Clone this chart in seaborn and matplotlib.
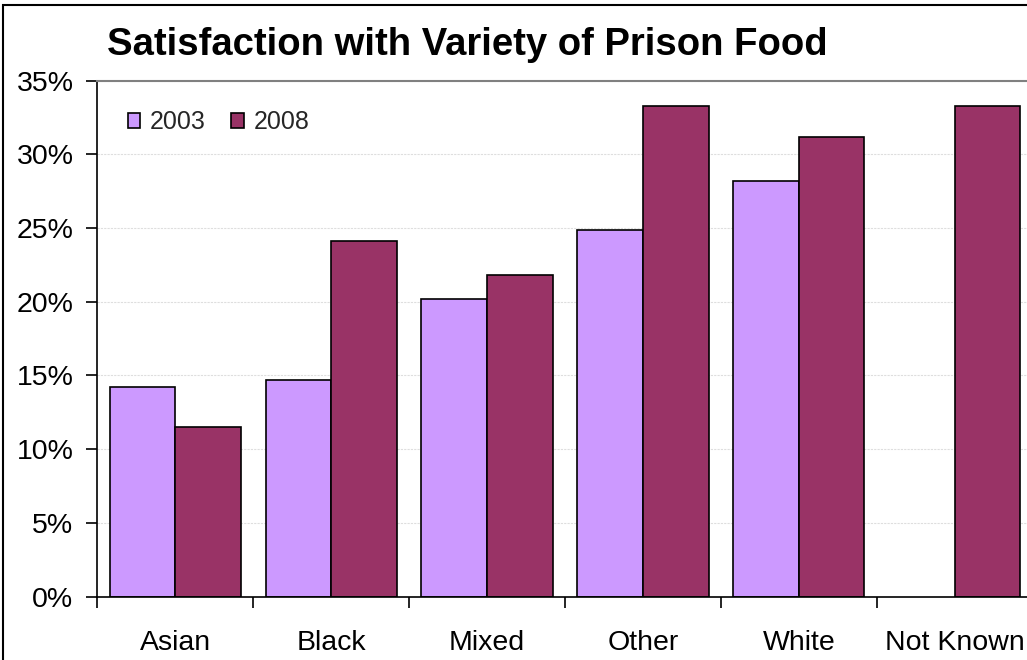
import numpy as np
import pandas as pd
import matplotlib
matplotlib.use("Agg")
import matplotlib.pyplot as plt
import seaborn as sns
from matplotlib.patches import Rectangle
from matplotlib.ticker import FixedLocator, FuncFormatter

categories = ["Asian", "Black", "Mixed", "Other", "White", "Not Known"]
years = ["2003", "2008"]
values_2003 = [14.2, 14.7, 20.2, 24.9, 28.2, np.nan]
values_2008 = [11.5, 24.1, 21.8, 33.3, 31.2, 33.3]
y_ticks = [0, 5, 10, 15, 20, 25, 30, 35]
title = "Satisfaction with Variety of Prison Food"

df = pd.DataFrame({
    "group": categories * 2,
    "year": [years[0]] * len(categories) + [years[1]] * len(categories),
    "value": values_2003 + values_2008,
}).dropna()

sns.set_theme(style="white")
plt.rcParams["font.family"] = ["Liberation Sans", "DejaVu Sans"]

fig = plt.figure(figsize=(10.27, 6.6), dpi=100)
ax = fig.add_axes([0.0945, 0.0962, 0.9113, 0.7815])

sns.barplot(data=df, x="group", y="value", hue="year", order=categories,
            hue_order=years, palette=["#CC99FF", "#993366"], width=0.84,
            edgecolor="black", linewidth=1.2, saturation=1, ax=ax,
            errorbar=None)

ax.set_ylim(0, 35)
ax.set_xlim(-0.5, len(categories) - 0.5)
ax.yaxis.set_major_locator(FixedLocator(y_ticks))
ax.yaxis.set_major_formatter(FuncFormatter(lambda v, p: f"{v:.0f}%"))
ax.yaxis.grid(True, color="#DEDEDE", linestyle=(0, (2, 1)), linewidth=0.8)
ax.set_axisbelow(True)

# category labels at centers, tick marks at category boundaries
ax.set_xticks(range(len(categories)))
ax.set_xticklabels(categories)
ax.set_xticks(np.arange(-0.5, len(categories), 1.0), minor=True)
ax.tick_params(axis="x", which="major", length=0, pad=24, labelsize=20.5)
ax.tick_params(axis="x", which="minor", length=8, width=1.2, color="black",
               direction="out", bottom=True)
ax.tick_params(axis="y", which="major", length=8, width=1.2, color="black",
               direction="out", left=True, labelsize=20.5, pad=9)
for lab in ax.get_xticklabels() + ax.get_yticklabels():
    lab.set_color("black")

ax.set_xlabel("")
ax.set_ylabel("")
ax.spines["left"].set_color("black")
ax.spines["left"].set_linewidth(1.2)
ax.spines["bottom"].set_color("black")
ax.spines["bottom"].set_linewidth(1.2)
ax.spines["top"].set_color("#808080")
ax.spines["top"].set_linewidth(1.5)
ax.spines["right"].set_visible(False)

ax.legend(loc="upper left", bbox_to_anchor=(0.022, 0.962), ncol=2,
          frameon=False, fontsize=18, handlelength=0.5, handleheight=0.5,
          handletextpad=0.4, columnspacing=1.0, borderaxespad=0)

fig.text(0.455, 0.932, title, ha="center", va="center", fontsize=27.5,
         fontweight="bold", color="black")

# chart frame
fig.patches.append(Rectangle((0.003, -0.1), 1.2, 1.0924, transform=fig.transFigure,
                             fill=False, edgecolor="black", linewidth=1.5))

fig.savefig("out.png", dpi=100)
